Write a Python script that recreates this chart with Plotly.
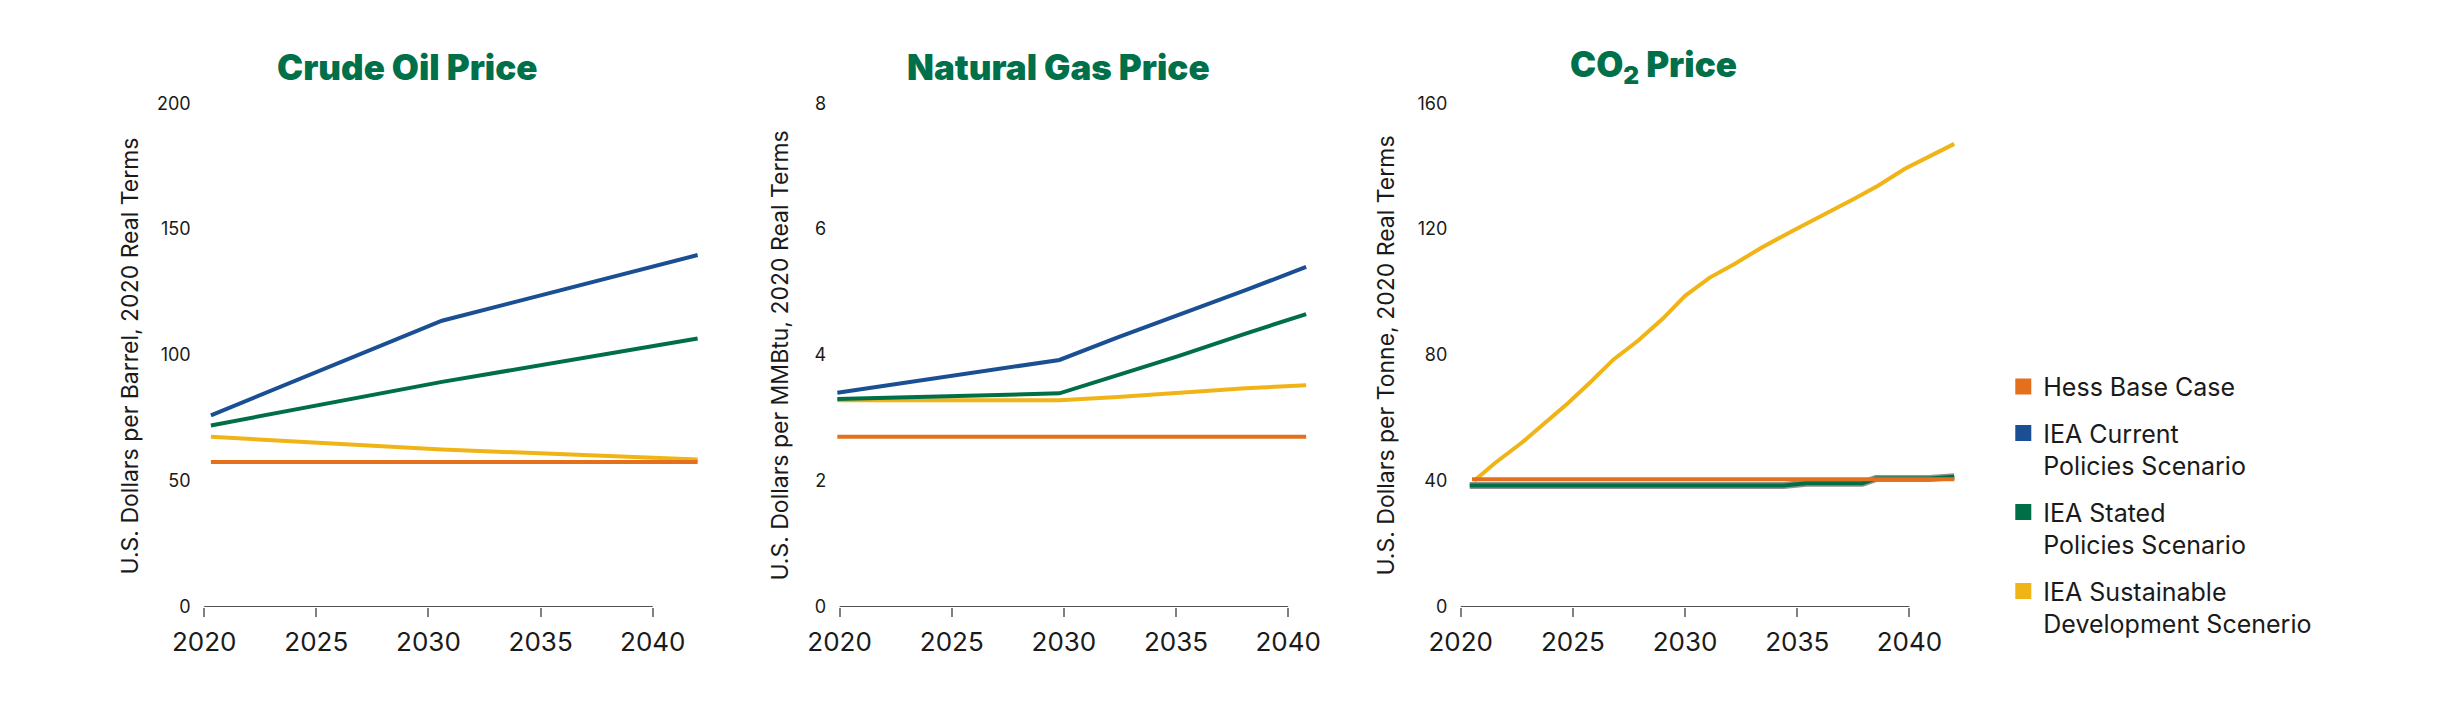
import plotly.graph_objects as go

# series colours
HESS = '#E4701E'
CURRENT = '#1A4F93'
STATED = '#006F47'
SDS = '#F1B416'
HALO = '#8E9290'
TITLE_GREEN = '#00704A'

# crude oil, $/bbl
oil_years = [2020.3, 2030.6, 2042.0]
oil_hess = [57.5, 57.5, 57.5]
oil_current = [76.0, 113.6, 139.7]
oil_stated = [72.0, 89.3, 106.5]
oil_sds = [67.5, 62.4, 58.5]

# natural gas, $/MMBtu
gas_years = [2019.9, 2029.8, 2032.4, 2035.1, 2038.1, 2040.8]
gas_hess = [2.70, 2.70, 2.70, 2.70, 2.70, 2.70]
gas_current = [3.40, 3.92, 4.28, 4.63, 5.03, 5.40]
gas_stated = [3.30, 3.39, 3.68, 3.98, 4.34, 4.65]
gas_sds = [3.28, 3.28, 3.33, 3.40, 3.47, 3.52]

# CO2, $/tonne
co2_hess_years = [2020.5, 2042.0]
co2_hess = [40.5, 40.5]
co2_stated_years = [2020.4, 2034.4, 2035.4, 2037.9, 2038.5, 2040.9, 2042.0]
co2_stated = [38.5, 38.5, 39.2, 39.2, 40.7, 40.7, 41.3]
co2_current = [38.5, 38.5, 39.2, 39.2, 40.7, 40.7, 41.3]
co2_sds_years = [2020.6, 2021.5, 2022.7, 2023.8, 2024.8, 2025.8, 2026.8, 2027.9, 2029.0, 2030.0,
                 2031.1, 2032.2, 2033.4, 2034.7, 2036.3, 2037.5, 2038.6, 2039.8, 2042.0]
co2_sds = [40.0, 45.5, 52.0, 58.7, 64.8, 71.5, 78.5, 84.5, 91.5, 98.8,
           104.6, 108.9, 114.1, 119.1, 124.9, 129.5, 133.8, 139.2, 147.1]

year_ticks = [2020, 2025, 2030, 2035, 2040]
oil_ticks = [0, 50, 100, 150, 200]
gas_ticks = [0, 2, 4, 6, 8]
co2_ticks = [0, 40, 80, 120, 160]

legend_names = ['Hess Base Case', 'IEA Current<br>Policies Scenario',
                'IEA Stated<br>Policies Scenario', 'IEA Sustainable<br>Development Scenerio']
legend_colors = [HESS, CURRENT, STATED, SDS]

FONT = 'Inter'
W, H = 2448, 728

fig = go.Figure()

def line(x, y, color, axis, width=4):
    fig.add_trace(go.Scatter(x=x, y=y, mode='lines', line=dict(color=color, width=width),
                             xaxis='x' + axis, yaxis='y' + axis, showlegend=False,
                             hoverinfo='skip'))

line(oil_years, oil_sds, SDS, '')
line(oil_years, oil_stated, STATED, '')
line(oil_years, oil_current, CURRENT, '')
line(oil_years, oil_hess, HESS, '')

line(gas_years, gas_sds, SDS, '2')
line(gas_years, gas_current, CURRENT, '2')
line(gas_years, gas_stated, STATED, '2')
line(gas_years, gas_hess, HESS, '2')

line(co2_sds_years, co2_sds, SDS, '3')
line(co2_stated_years, co2_current, HALO, '3', width=7)
line(co2_stated_years, co2_stated, STATED, '3')
line(co2_hess_years, co2_hess, HESS, '3')

# legend entries as square swatches
for i, (name, col) in enumerate(zip(legend_names, legend_colors)):
    fig.add_trace(go.Scatter(x=[None], y=[None], mode='markers', name=name,
                             legendgroup=str(i),
                             marker=dict(symbol='square', size=16, color=col)))

# target pixel positions -> paper fractions
# (corrected for the offset seen in the rendered page)
def px(x):
    return ((x - 30) / 1.005) / W

def py(y):
    return (H - (y - 15.6) / 0.984) / H

x_doms = [(196.4, 707.2), (842.4, 1353.2), (1473.9, 1984.7)]
y_dom = [py(611), py(101)]
y_ranges = [[0, 200], [0, 8], [0, 160]]
y_tickvals = [oil_ticks, gas_ticks, co2_ticks]

for i, suffix in enumerate(['', '2', '3']):
    fig.update_layout(**{
        'xaxis' + suffix: dict(domain=[px(x_doms[i][0]), px(x_doms[i][1])], range=[2019.8, 2042.2],
                               tickvals=year_ticks, ticks='outside', ticklen=9, tickwidth=1.5,
                               tickcolor='#808080', showline=False, showgrid=False, zeroline=False,
                               ticklabelstandoff=3, anchor='y' + suffix,
                               tickfont=dict(family=FONT, size=26, color='#1a1a1a')),
        'yaxis' + suffix: dict(domain=y_dom, range=y_ranges[i], tickvals=y_tickvals[i],
                               showline=False, showgrid=False, zeroline=False, ticks='',
                               ticklabelstandoff=8, anchor='x' + suffix,
                               tickfont=dict(family=FONT, size=18, color='#1a1a1a')),
    })
    # short baseline from 2020 to 2040
    fig.add_shape(type='line', xref='x' + suffix, yref='y' + suffix, x0=2020, x1=2040, y0=0, y1=0,
                  line=dict(color='#1a1a1a', width=1.5))

titles = ['Crude Oil Price', 'Natural Gas Price', 'CO<sub>2</sub> Price']
title_x = [408, 1069, 1674]
for t, x in zip(titles, title_x):
    fig.add_annotation(text=t, x=px(x), y=py(64), xref='paper', yref='paper', showarrow=False,
                       xanchor='center', yanchor='middle',
                       font=dict(family=FONT, size=35, color=TITLE_GREEN, weight=900))

ytitles = ['U.S. Dollars per Barrel, 2020 Real Terms', 'U.S. Dollars per MMBtu, 2020 Real Terms',
           'U.S. Dollars per Tonne, 2020 Real Terms']
ytitle_x = [125, 786, 1402]
for t, x in zip(ytitles, ytitle_x):
    fig.add_annotation(text=t, x=px(x), y=py(357), xref='paper', yref='paper', showarrow=False,
                       textangle=-90, xanchor='center', yanchor='middle',
                       font=dict(family=FONT, size=23, color='#1a1a1a'))

fig.update_layout(
    width=W, height=H,
    margin=dict(l=0, r=0, t=0, b=0),
    paper_bgcolor='white', plot_bgcolor='white',
    legend=dict(x=px(2030), y=py(365), xanchor='left', yanchor='top', valign='top',
                tracegroupgap=11, font=dict(family=FONT, size=25, color='#1a1a1a'),
                bgcolor='rgba(0,0,0,0)'),
)

fig.write_html("out.html")
